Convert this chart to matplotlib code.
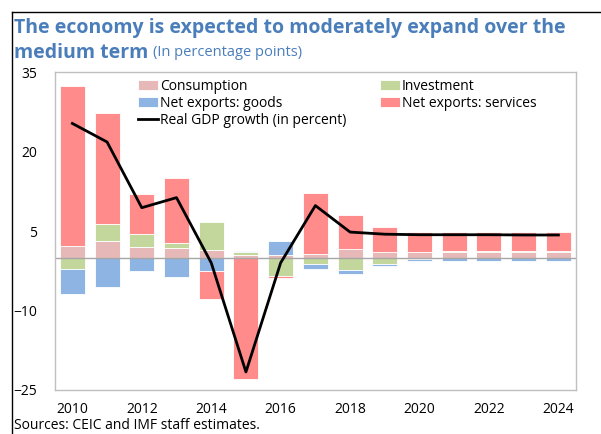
import numpy as np
import matplotlib.pyplot as plt
from matplotlib.lines import Line2D

plt.rcParams['font.family'] = ['Open Sans', 'DejaVu Sans']

years = list(range(2010, 2025))
consumption = [2.2, 3.1, 1.9, 1.85, 1.5, 0.5, 0.4, 0.65, 1.6, 1.0, 0.95, 0.95, 0.95, 0.95, 0.95]
investment = [-2.25, 3.2, 2.5, 0.95, 5.2, 0.5, -3.5, -1.3, -2.4, -1.3, -0.25, 0.25, 0.25, 0.25, 0.25]
goods = [-4.7, -5.5, -2.6, -3.7, -2.6, 0.3, 2.7, -0.95, -0.7, -0.25, -0.45, -0.7, -0.7, -0.7, -0.7]
services = [30.1, 20.9, 7.5, 12.15, -5.3, -23.0, -0.4, 11.45, 6.35, 4.7, 3.95, 3.7, 3.65, 3.65, 3.65]
gdp = [25.3, 21.8, 9.4, 11.3, -1.0, -21.6, -1.0, 9.8, 4.8, 4.4, 4.3, 4.3, 4.3, 4.25, 4.25]

series = [("Consumption", consumption, "#E6B9B8"),
          ("Investment", investment, "#C3D69B"),
          ("Net exports: goods", goods, "#8DB4E2"),
          ("Net exports: services", services, "#FF8B8B")]

fig = plt.figure(figsize=(6.01, 4.34), dpi=100)
ax = fig.add_axes([0.0915, 0.1014, 0.8665, 0.7326])

x = np.arange(len(years))
pos_base = np.zeros(len(years))
neg_base = np.zeros(len(years))
handles = {}
for name, vals, col in series:
    v = np.array(vals)
    base = np.where(v >= 0, pos_base, neg_base)
    b = ax.bar(x, v, bottom=base, width=0.72, color=col, edgecolor='white', linewidth=0.6, label=name)
    handles[name] = b
    pos_base = pos_base + np.where(v >= 0, v, 0)
    neg_base = neg_base + np.where(v < 0, v, 0)

ax.axhline(0, color='#A6A6A6', lw=1, zorder=1)
line, = ax.plot(x, gdp, color='black', lw=2, label='Real GDP growth (in percent)', zorder=5)

ax.set_xlim(-0.5, len(years) - 0.5)
ax.set_ylim(-25, 35)
ax.set_yticks([35, 20, 5, -10, -25])
ax.set_xticks(x[::2])
ax.set_xticklabels([str(y) for y in years[::2]])
ax.tick_params(axis='both', length=0, labelsize=10)
ax.tick_params(axis='y', pad=13)
ax.tick_params(axis='x', pad=9)
for s in ax.spines.values():
    s.set_color('#BFBFBF')
    s.set_linewidth(1)

h = [handles["Consumption"], handles["Net exports: goods"], line,
     handles["Investment"], handles["Net exports: services"]]
lab = ["Consumption", "Net exports: goods", "Real GDP growth (in percent)",
       "Investment", "Net exports: services"]
ax.legend(h, lab, ncol=2, loc='upper left', bbox_to_anchor=(0.14, 1.01), frameon=False,
          fontsize=10, handlelength=1.5, handletextpad=0.1, columnspacing=2.4,
          labelspacing=0.15, borderaxespad=0.3)

title_col = '#4A7EBB'
fig.text(0.024, 0.935, "The economy is expected to moderately expand over the",
         fontsize=14, fontweight='bold', color=title_col, va='center')
t = fig.text(0.024, 0.878, "medium term", fontsize=14, fontweight='bold', color=title_col, va='center')
fig.canvas.draw()
bb = t.get_window_extent()
fig.text(bb.x1 / fig.bbox.width + 0.008, 0.880, "(In percentage points)",
         fontsize=10.5, color=title_col, va='center')

fig.text(0.024, 0.003, "Sources: CEIC and IMF staff estimates.", fontsize=10, va='bottom')

fig.add_artist(Line2D([0.02, 0.02], [0, 0.972], color='black', lw=1, transform=fig.transFigure))
fig.add_artist(Line2D([0.02, 1.0], [0.972, 0.972], color='black', lw=1, transform=fig.transFigure))

fig.savefig('out.png', dpi=100)
